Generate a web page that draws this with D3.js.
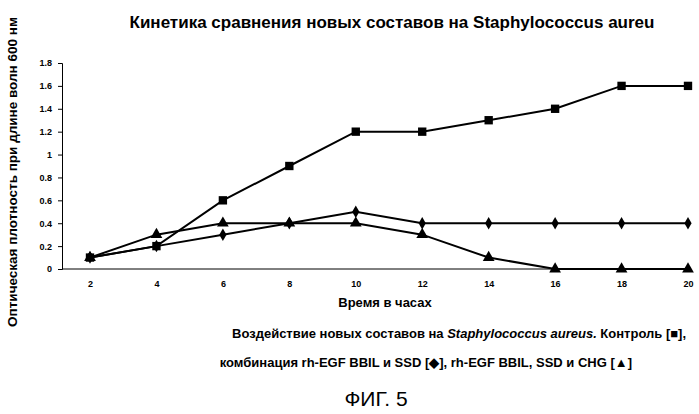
<!DOCTYPE html><html><head><meta charset="utf-8"><script src="https://cdn.jsdelivr.net/npm/d3@7"></script>
<style>body{margin:0;background:#fff}text{font-family:"Liberation Sans",Arial,sans-serif}</style></head><body>
<svg id="c" width="699" height="414"></svg>
<script>
const hours=[2,4,6,8,10,12,14,16,18,20];
const control=[0.1,0.2,0.6,0.9,1.2,1.2,1.3,1.4,1.6,1.6];
const combo=[0.1,0.2,0.3,0.4,0.5,0.4,0.4,0.4,0.4,0.4];
const chg=[0.1,0.3,0.4,0.4,0.4,0.3,0.1,0,0,0];
const yTicks=[0,0.2,0.4,0.6,0.8,1,1.2,1.4,1.6,1.8];
const svg=d3.select("#c");
const x=d3.scaleLinear().domain([2,20]).range([90,688]);
const y=d3.scaleLinear().domain([0,1.8]).range([269,63]);
svg.append("g").attr("transform","translate(0,269)").call(d3.axisBottom(x).tickValues(hours).tickSize(0).tickPadding(12))
 .call(g=>{g.select(".domain").remove();g.selectAll("text").attr("font-size",9).attr("font-weight","bold");});
svg.append("g").attr("transform","translate(62,0)").call(d3.axisLeft(y).tickValues(yTicks).tickFormat(d=>String(d)).tickSize(4).tickPadding(6))
 .call(g=>{g.select(".domain").attr("stroke","#000");g.selectAll("text").attr("font-size",9).attr("font-weight","bold");});
svg.append("line").attr("x1",62).attr("x2",690).attr("y1",269).attr("y2",269).attr("stroke","#000");
const line=d3.line().x((d,i)=>x(hours[i])).y(d=>y(d));
[[control,d3.symbolSquare,70],[combo,d3.symbolDiamond,45],[chg,d3.symbolTriangle,60]].forEach(([data,sym,sz])=>{
 svg.append("path").attr("d",line(data)).attr("fill","none").attr("stroke","#000").attr("stroke-width",2);
 svg.selectAll(null).data(data).enter().append("path").attr("d",d3.symbol(sym,sz)())
  .attr("transform",(d,i)=>`translate(${x(hours[i])},${y(d)})`).attr("fill","#000");
});
svg.append("text").attr("x",392).attr("y",28).attr("text-anchor","middle").attr("font-size",17).attr("font-weight","bold").text("Кинетика сравнения новых составов на Staphylococcus aureu");
svg.append("text").attr("transform","translate(17,172) rotate(-90)").attr("text-anchor","middle").attr("font-size",13.5).attr("font-weight","bold").text("Оптическая плотность при длине волн 600 нм");
svg.append("text").attr("x",385).attr("y",307).attr("text-anchor","middle").attr("font-size",13).attr("font-weight","bold").text("Время в часах");
const l1=svg.append("text").attr("x",686).attr("y",338).attr("text-anchor","end").attr("font-size",13).attr("font-weight","bold");
l1.append("tspan").text("Воздействие новых составов на ");
l1.append("tspan").attr("font-style","italic").text("Staphylococcus aureus.");
l1.append("tspan").text("  Контроль   [■],");
svg.append("text").attr("x",632).attr("y",367).attr("text-anchor","end").attr("font-size",13).attr("font-weight","bold").text("комбинация rh-EGF BBIL и SSD [◆], rh-EGF BBIL, SSD и CHG [▲]");
svg.append("text").attr("x",376).attr("y",406).attr("text-anchor","middle").attr("font-size",21).text("ФИГ. 5");
</script></body></html>
